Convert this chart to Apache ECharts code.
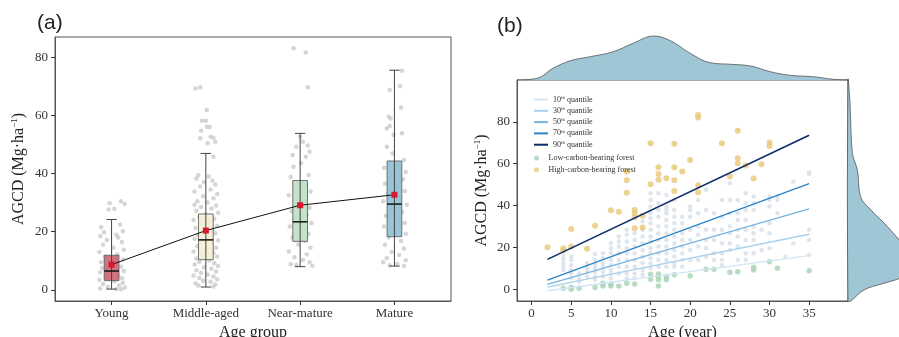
<!DOCTYPE html>
<html>
<head>
<meta charset="utf-8">
<script src="https://cdn.jsdelivr.net/npm/echarts@6/dist/echarts.min.js"></script>
<style>
  html, body { margin: 0; padding: 0; background: #fff; }
  #chart { width: 899px; height: 337px; }
</style>
</head>
<body>
<div id="chart"></div>
<script>
// ---- panel (a): age groups ----
const groups = ['Young', 'Middle-aged', 'Near-mature', 'Mature']
const boxLow = [0.3, 1.0, 8.0, 8.2]
const boxQ1 = [3.2, 10.4, 16.7, 18.3]
const boxMedian = [6.5, 17.2, 23.4, 29.5]
const boxQ3 = [11.9, 26.1, 37.6, 44.3]
const boxHigh = [24.2, 46.9, 53.8, 75.5]
const groupMeans = [8.7, 20.4, 29.1, 32.7]

// jittered raw points: [offset from group centre, AGCD]
const jitterYoung = [[0.10,30.5],[-0.02,29.8],[0.14,29.5],[0.03,27.8],[-0.03,27.6],[0.09,22.5],[-0.11,21.5],[0.12,20.2],[-0.08,19.8],[0.05,19],[-0.12,18.5],[0.07,18],[-0.05,17.2],[0.11,16.5],[-0.09,15.5],[0.02,14.5],[0.13,13.8],[-0.13,13],[0.06,12.2],[-0.07,11.5],[0.12,10.5],[-0.11,9.5],[0.04,9],[0.1,8],[-0.1,7.5],[0.13,6.5],[-0.12,6],[0.07,5],[-0.06,4.5],[0.11,4],[-0.13,3.5],[0.03,3],[0.12,2.5],[-0.09,2],[0.08,1.5],[-0.04,1],[0.14,0.8],[-0.12,0.5],[0.05,0.3],[0.1,0.2]]
const jitterMiddle = [[-0.11,69.2],[-0.06,69.6],[0.01,61.8],[-0.04,58.1],[0.0,58.1],[-0.05,54.7],[0.01,56.1],[0.04,56],[0.05,52.6],[0.08,52.3],[0.1,50.9],[0.02,50.4],[-0.06,52.1],[0.08,45.8],[-0.08,39.5],[0.03,39],[-0.1,38.3],[0.07,37.5],[-0.02,37],[0.1,36.2],[-0.06,35.5],[0.05,34.5],[-0.12,33.8],[0.12,33],[-0.03,32.2],[0.08,31.5],[-0.09,30.5],[0.02,30],[-0.12,29.3],[0.11,29],[-0.05,28.5],[0.06,28],[-0.1,27.2],[0.13,26.5],[0.0,25.8],[-0.07,25],[0.09,24.5],[-0.13,24],[0.04,23.3],[-0.04,22.5],[0.12,22],[-0.11,21.3],[0.07,20.8],[-0.02,20],[0.1,19.5],[-0.08,18.8],[0.03,18.2],[-0.12,17.6],[0.13,17],[-0.05,16.3],[0.06,15.8],[-0.09,15],[0.11,14.5],[0.0,14],[-0.13,13.2],[0.08,12.7],[-0.04,12],[0.12,11.5],[-0.1,10.8],[0.04,10.2],[-0.07,9.6],[0.09,9.2],[-0.12,8.7],[0.13,8.2],[-0.02,7.8],[0.06,7.3],[-0.1,6.8],[0.11,6.3],[-0.05,5.8],[0.02,5.3],[-0.13,5],[0.08,4.6],[-0.07,4.1],[0.12,3.7],[-0.03,3.2],[0.05,2.8],[-0.11,2.3],[0.1,1.9],[0.08,1.2],[-0.08,1.5]]
const jitterNear = [[-0.07,83],[0.06,81.6],[0.08,69.6],[-0.04,49.2],[0.03,50.9],[0.0,52.6],[0.08,49.6],[-0.08,46.4],[0.06,45.8],[0.1,47.5],[-0.07,42.3],[0.01,43.5],[0.09,39.5],[-0.1,38.8],[0.05,36.5],[-0.06,35.2],[0.11,33.8],[-0.12,32.5],[0.03,31],[-0.03,29.8],[0.1,28.2],[-0.09,27],[0.07,25.8],[-0.05,24.5],[0.12,23],[-0.11,21.8],[0.02,20.5],[0.09,19.2],[-0.08,18],[0.05,16.8],[-0.02,15.6],[0.11,14.5],[-0.12,13.2],[0.07,12.2],[-0.06,11.2],[0.03,10.3],[0.1,9.5],[-0.1,8.8],[0.13,8.3],[-0.04,8.6]]
const jitterMature = [[0.08,75.3],[0.06,70],[-0.05,68.7],[0.07,62.7],[-0.06,59.5],[-0.04,58.9],[0.08,53.8],[-0.08,55.5],[-0.05,56.3],[-0.01,53.2],[-0.08,49.2],[-0.02,46.9],[0.1,44.6],[0.05,43],[-0.11,42],[0.12,40.5],[-0.04,39.2],[0.09,38],[-0.1,36.5],[0.02,35.3],[0.11,34],[-0.07,33],[0.06,31.8],[-0.12,30.5],[0.13,29.3],[-0.03,28],[0.08,26.8],[-0.09,25.5],[0.04,24.2],[0.11,23],[-0.11,21.8],[0.0,20.5],[0.12,19.3],[-0.06,18],[0.07,16.8],[-0.1,15.5],[0.1,14.2],[-0.03,13],[0.05,12],[-0.08,11],[0.12,10.2],[-0.12,9.5],[0.03,9],[0.1,8.2],[-0.05,8.5]]
const yTicksA = [0, 20, 40, 60, 80]

// ---- panel (b): age in years ----
const ageTicks = [0, 5, 10, 15, 20, 25, 30, 35]
const yTicksB = [0, 20, 40, 60, 80]
const quantileNames = ['10th quantile', '30th quantile', '50th quantile', '70th quantile', '90th quantile']
const quantileAges = [2, 35]
const quantileStart = [-0.7, 1.0, 2.4, 4.4, 14.3]
const quantileEnd = [16.1, 26.3, 38.4, 50.5, 73.6]

const highCarbon = [[2,20.1],[4,19.6],[4,18.5],[5,28.8],[5,20.4],[7,19.4],[8,30.4],[10,37.8],[11,37.1],[12,56.3],[12,52.1],[12,46.1],[13,37.9],[13,36.3],[13,34.4],[13,29.2],[14,35.1],[14,29.5],[15,69.8],[15,50.2],[16,58.3],[16,55.1],[16,52.3],[17,53.1],[18,69.5],[18,58.3],[18,52.1],[18,47.0],[19,56.3],[20,61.8],[21,83.3],[21,82.1],[21,49.7],[21,46.4],[24,69.8],[25,53.9],[26,75.7],[26,62.6],[26,60.2],[27,59.1],[28,52.9],[29,59.8],[30,70.1],[30,68.5]]
const lowCarbon = [[4,0.5],[5,1.0],[5,0],[6,0.5],[8,0.8],[9,2.9],[9,1.6],[10,2.5],[10,1.6],[11,1.6],[12,2.9],[13,2.5],[15,7.2],[15,4.8],[16,7.3],[16,6.1],[16,4.5],[16,1.6],[17,6.1],[17,4.5],[18,6.9],[20,6.4],[22,9.6],[23,9.6],[25,8.1],[26,8.4],[28,10.5],[28,9.2],[30,13.2],[31,10.0],[35,8.9]]
const grayAges = [4,5,6,7,8,9,10,11,12,13,14,15,16,17,18,19,20,21,22,23,24,25,26,27,28,29,30,31,32,33,35]
const grayValues = [
  [15.9,14.3,12.4,10.8,9.2],
  [15.6,14.0,11.6,9.2,7.6,5.3],
  [7.6,5.3,3.7],
  [12.4,10.0,8.4,6.1],
  [16.9,14.0,11.6,10.0,8.4,6.1,4.5],
  [17.2,14.8,12.4,10.8,8.4,6.1],
  [22.0,19.6,17.2,14.0,11.6,9.2,7.6,5.3],
  [25.2,22.8,20.4,17.2,14.0,10.8,7.6],
  [28.4,26.0,22.8,19.6,17.2,14.0,10.8,7.6,5.3],
  [26.8,23.6,20.4,17.2,14.0,10.8,7.6,5.3],
  [32.4,28.4,25.2,22.0,18.8,15.6,12.4,9.2,6.9],
  [45.9,42.7,39.5,36.3,33.9,31.6,28.4,25.2,22.8,19.6,17.2,14.8,12.4,10.0],
  [45.9,41.1,37.9,34.7,30.0,26.8,23.6,20.4,17.2,14.0,10.8],
  [45.1,39.5,37.9,36.3,33.1,30.0,26.8,23.6,20.4,17.2,14.0,10.8],
  [42.7,37.9,34.7,31.6,28.4,25.2,22.0,18.8,15.6,12.4,10.8],
  [34.7,31.6,26.8,23.6,20.4,17.2,14.0,10.8],
  [39.5,37.9,34.7,28.4,23.6,18.8,14.0],
  [49.1,42.7,36.3,30.0,26.0,20.4,14.0],
  [47.5,37.9,28.4,23.6,19.6,15.6],
  [36.3,28.4,23.6,17.2,14.0],
  [42.7,34.7,28.4,22.0,17.2,14.0,11.6],
  [50.7,42.7,36.3,30.0,26.8,22.0,18.8],
  [42.7,36.3,33.1,28.4,25.2,20.4,14.0],
  [45.9,41.1,37.9,33.1,28.4,23.6,17.2,14.0],
  [44.3,41.1,37.9,30.0,26.8,23.6,17.2],
  [28.4,18.8],
  [44.3,42.7,39.5,31.6,26.8,19.6],
  [44.3,42.7,36.3],
  [15.6],
  [51.5,22.0],
  [55.8,55.1,28.4,23.6,16.4]
]

// marginal density of age (top) and of AGCD (right), relative heights
const ageDensityX = [-1.84, 0.7, 2.7, 4.9, 7.4, 10.3, 12.8, 15.4, 17.5, 20.0, 22.5, 25.1, 27.6, 30.1, 32.6, 35.5, 38.0, 39.9]
const ageDensityY = [0, 1.7, 11.7, 19.3, 23.3, 28.3, 36.7, 44, 39.3, 26.7, 17.3, 15.7, 14, 8.3, 4.7, 3.3, 0.7, 0]
const agcdDensityV = [100, 89, 65, 57, 44, 38, 30, 22, 17, 13, 9, 5.3, 2.9, -0.3, -5.6]
const agcdDensityW = [0, 2, 4.4, 9.4, 12.7, 22.7, 39.4, 54, 63, 67, 63, 52, 36, 16, 2.7]

const SERIF = "'Liberation Serif', 'Times New Roman', serif"
const boxColors = ['#cd6674', '#f5efd6', '#c0dfc7', '#8ebfd4']
const quantileColors = ['#d4e5f4', '#a9d0ec', '#76b4e0', '#2b83c6', '#0c2c6a']

const axisText = { color: '#333', fontFamily: SERIF, fontSize: 13 }
const axisNameStyle = {
  color: '#222', fontFamily: SERIF, fontSize: 16,
  rich: { sup: { fontSize: 9, verticalAlign: 'top', padding: [0, 0, 8, 0], fontFamily: SERIF, color: '#222' } },
}

function jitterSeries(list, idx) {
  return list.map(([dx, v]) => [idx + dx, v])
}

const rawA = [].concat(
  jitterSeries(jitterYoung, 0),
  jitterSeries(jitterMiddle, 1),
  jitterSeries(jitterNear, 2),
  jitterSeries(jitterMature, 3)
)

const grayPoints = []
grayAges.forEach((a, i) => grayValues[i].forEach((v) => grayPoints.push([a, v])))

function renderBox(params, api) {
  const i = api.value(0)
  const lo = api.coord([i, api.value(1)])
  const q1 = api.coord([i, api.value(2)])
  const md = api.coord([i, api.value(3)])
  const q3 = api.coord([i, api.value(4)])
  const hi = api.coord([i, api.value(5)])
  const hb = api.size([0.078, 0])[0]
  const hc = api.size([0.055, 0])[0]
  const x = lo[0]
  const stroke = { stroke: '#444', lineWidth: 1 }
  return {
    type: 'group',
    children: [
      { type: 'rect', shape: { x: x - hb, y: q3[1], width: hb * 2, height: q1[1] - q3[1] },
        style: { fill: boxColors[params.dataIndex], stroke: '#666', lineWidth: 1, opacity: 0.92 } },
      { type: 'line', shape: { x1: x, y1: lo[1], x2: x, y2: hi[1] }, style: stroke },
      { type: 'line', shape: { x1: x - hc, y1: lo[1], x2: x + hc, y2: lo[1] }, style: stroke },
      { type: 'line', shape: { x1: x - hc, y1: hi[1], x2: x + hc, y2: hi[1] }, style: stroke },
      { type: 'line', shape: { x1: x - hb, y1: md[1], x2: x + hb, y2: md[1] }, style: { stroke: '#111', lineWidth: 1.5 } },
    ],
  }
}

function renderRightDensity(params, api) {
  const pts = agcdDensityV.map((v, k) => api.coord([agcdDensityW[k], v]))
  pts.push(api.coord([0, agcdDensityV[agcdDensityV.length - 1]]))
  return {
    type: 'polygon',
    shape: { points: pts, smooth: 0.35 },
    style: { fill: '#9fc6d4', stroke: '#555', lineWidth: 0.8 },
  }
}

const chart = echarts.init(document.getElementById('chart'))

const gridBase = { outerBoundsMode: 'none', containLabel: false }

chart.setOption({
  animation: false,
  backgroundColor: '#fff',
  title: [
    { text: '(a)', left: 32, top: 8, textStyle: { fontFamily: "'Liberation Sans', Arial, sans-serif", fontSize: 21, fontWeight: 'normal', color: '#222' } },
    { text: '(b)', left: 492, top: 11, textStyle: { fontFamily: "'Liberation Sans', Arial, sans-serif", fontSize: 21, fontWeight: 'normal', color: '#222' } },
  ],
  legend: [
    {
      data: quantileNames,
      orient: 'vertical', left: 529, top: 90,
      icon: 'rect', itemWidth: 14, itemHeight: 2, itemGap: 2.3,
      textStyle: {
        fontFamily: SERIF, fontSize: 8, color: '#333', lineHeight: 9,
        rich: { sup: { fontSize: 5, verticalAlign: 'top', lineHeight: 9, padding: [0, 0, 3, 0], fontFamily: SERIF, color: '#333' } },
      },
      formatter: (name) => name.replace(/^(\d+)th/, '$1{sup|th}'),
    },
    {
      data: ['Low-carbon-bearing forest', 'High-carbon-bearing forest'],
      orient: 'vertical', left: 529, top: 148.5,
      icon: 'circle', itemWidth: 14, itemHeight: 5, itemGap: 2.7,
      textStyle: { fontFamily: SERIF, fontSize: 8, color: '#333', lineHeight: 9 },
    },
  ],
  grid: [
    { ...gridBase, left: 55, top: 37, width: 396, height: 264, show: true, borderColor: '#555', borderWidth: 1, backgroundColor: '#fff' },
    { ...gridBase, left: 517, top: 80, width: 331, height: 221, show: true, borderColor: '#555', borderWidth: 1, backgroundColor: '#fff' },
    { ...gridBase, left: 517, top: 30, width: 331, height: 50 },
    { ...gridBase, left: 848, top: 80, width: 51, height: 221 },
  ],
  xAxis: [
    {
      gridIndex: 0, type: 'value', min: -0.6, max: 3.6,
      name: 'Age group', nameLocation: 'middle', nameGap: 22, nameTextStyle: axisNameStyle,
      axisLine: { onZero: false, lineStyle: { color: '#555' } },
      axisTick: { customValues: [0, 1, 2, 3], length: 4, lineStyle: { color: '#333' } },
      axisLabel: { customValues: [0, 1, 2, 3], formatter: (v) => groups[v], margin: 6, ...axisText },
      splitLine: { show: false },
    },
    {
      gridIndex: 1, type: 'value', min: -1.84, max: 39.9,
      name: 'Age (year)', nameLocation: 'middle', nameGap: 22, nameTextStyle: axisNameStyle,
      axisLine: { onZero: false, lineStyle: { color: '#555' } },
      axisTick: { customValues: ageTicks, length: 4, lineStyle: { color: '#333' } },
      axisLabel: { customValues: ageTicks, margin: 6, ...axisText },
      splitLine: { show: false },
    },
    { gridIndex: 2, type: 'value', min: -1.84, max: 39.9, show: false },
    { gridIndex: 3, type: 'value', min: 0, max: 51, show: false },
  ],
  yAxis: [
    {
      gridIndex: 0, type: 'value', min: -3.8, max: 86.9,
      name: 'AGCD (Mg·ha{sup|−1})', nameLocation: 'middle', nameGap: 28, nameTextStyle: axisNameStyle,
      axisLine: { show: true, onZero: false, lineStyle: { color: '#555' } },
      axisTick: { show: true, customValues: yTicksA, length: 4, lineStyle: { color: '#333' } },
      axisLabel: { customValues: yTicksA, margin: 7, ...axisText },
      splitLine: { show: false },
    },
    {
      gridIndex: 1, type: 'value', min: -5.6, max: 100,
      name: 'AGCD (Mg·ha{sup|−1})', nameLocation: 'middle', nameGap: 27, nameTextStyle: axisNameStyle,
      axisLine: { show: true, onZero: false, lineStyle: { color: '#555' } },
      axisTick: { show: true, customValues: yTicksB, length: 4, lineStyle: { color: '#333' } },
      axisLabel: { customValues: yTicksB, margin: 7, ...axisText },
      splitLine: { show: false },
    },
    { gridIndex: 2, type: 'value', min: 0, max: 50, show: false },
    { gridIndex: 3, type: 'value', min: -5.6, max: 100, show: false },
  ],
  series: [
    // panel (a)
    {
      type: 'scatter', xAxisIndex: 0, yAxisIndex: 0, data: rawA,
      symbolSize: 4.5, itemStyle: { color: '#cbcbcb' }, silent: true,
    },
    {
      type: 'custom', xAxisIndex: 0, yAxisIndex: 0, renderItem: renderBox,
      data: groups.map((g, i) => [i, boxLow[i], boxQ1[i], boxMedian[i], boxQ3[i], boxHigh[i]]),
      z: 3,
    },
    {
      type: 'line', xAxisIndex: 0, yAxisIndex: 0, z: 4,
      data: groupMeans.map((m, i) => [i, m]),
      symbol: 'rect', symbolSize: 6,
      itemStyle: { color: '#d41a2c' }, lineStyle: { color: '#111', width: 1 },
    },
    // panel (b)
    {
      type: 'scatter', xAxisIndex: 1, yAxisIndex: 1, data: grayPoints,
      symbolSize: 4.5, itemStyle: { color: '#d6dee7' }, silent: true,
    },
    {
      name: 'Low-carbon-bearing forest', type: 'scatter', xAxisIndex: 1, yAxisIndex: 1, data: lowCarbon,
      symbolSize: 5.5, itemStyle: { color: '#a6d3b4' },
    },
    {
      name: 'High-carbon-bearing forest', type: 'scatter', xAxisIndex: 1, yAxisIndex: 1, data: highCarbon,
      symbolSize: 6, itemStyle: { color: '#e8c777' },
    },
    ...quantileNames.map((name, k) => ({
      name, type: 'line', xAxisIndex: 1, yAxisIndex: 1, z: 4,
      data: [[quantileAges[0], quantileStart[k]], [quantileAges[1], quantileEnd[k]]],
      showSymbol: false, symbol: 'none',
      itemStyle: { color: quantileColors[k] },
      lineStyle: { color: quantileColors[k], width: k === 4 ? 1.6 : 1.3 },
    })),
    {
      type: 'line', xAxisIndex: 2, yAxisIndex: 2,
      data: ageDensityX.map((x, k) => [x, ageDensityY[k]]),
      smooth: 0.4, showSymbol: false, symbol: 'none',
      lineStyle: { color: '#555', width: 0.8 },
      areaStyle: { color: '#9fc6d4', opacity: 1 },
    },
    {
      type: 'custom', xAxisIndex: 3, yAxisIndex: 3, renderItem: renderRightDensity,
      data: [[0, 0]], clip: false,
    },
  ],
})
</script>
</body>
</html>
